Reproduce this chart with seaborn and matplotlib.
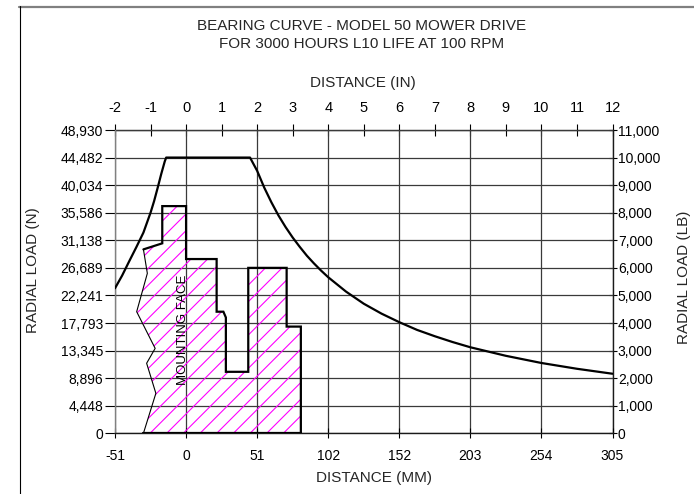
import matplotlib
matplotlib.use("Agg")
import matplotlib.pyplot as plt
from matplotlib.lines import Line2D
import numpy as np
import pandas as pd
import seaborn as sns

# ---------------- data ----------------
title_lines = ["BEARING CURVE - MODEL 50 MOWER DRIVE",
               "FOR 3000 HOURS L10 LIFE AT 100 RPM"]

# bearing capacity curve: distance (in) vs radial load (lb)
curve_in = [-2.0, -1.8, -1.6, -1.4, -1.2, -1.0, -0.9, -0.8, -0.7, -0.6, -0.56,
            1.80, 2.0, 2.2, 2.4, 2.6, 2.8, 3.0, 3.2, 3.4, 3.6, 3.8, 4.0,
            4.5, 5.0, 5.5, 6.0, 6.5, 7.0, 7.5, 8.0, 9.0, 10.0, 11.0, 12.0]
curve_lb = [5260, 5720, 6240, 6750, 7280, 8000, 8420, 8900, 9400, 9860, 10000,
            10000, 9520, 8910, 8380, 7900, 7480, 7100, 6760, 6440, 6160, 5900, 5660,
            5140, 4700, 4340, 4030, 3750, 3520, 3310, 3120, 2810, 2550, 2340, 2160]

# housing profile (hatched region): distance (in), load-axis height (lb)
house_in = [-1.20, 3.23, 3.23, 2.83, 2.83, 1.75, 1.75, 1.12, 1.12, 1.05, 0.86,
            0.86, 0.0, 0.0, -0.67, -0.67, -1.20]
house_lb = [0, 0, 3870, 3870, 6000, 6000, 2230, 2230, 4200, 4410, 4410,
            6320, 6320, 8240, 8240, 6890, 6670]
zig_in = [-1.20, -1.09, -1.39, -0.87, -1.11, -0.85, -1.20]
zig_lb = [6670, 5800, 4410, 3080, 2540, 1450, 0]

top_ticks_in = list(range(-2, 13))
bottom_ticks_in = list(range(-2, 13, 2))
bottom_labels_mm = ["-51", "0", "51", "102", "152", "203", "254", "305"]
y_ticks_lb = list(range(0, 11001, 1000))
left_labels_n = ["0", "4,448", "8,896", "13,345", "17,793", "22,241", "26,689",
                 "31,138", "35,586", "40,034", "44,482", "48,930"]
right_labels_lb = ["0", "1,000", "2,000", "3,000", "4,000", "5,000", "6,000",
                   "7,000", "8,000", "9,000", "10,000", "11,000"]

# ---------------- style ----------------
sns.set_style("white")
plt.rcParams["font.family"] = ["Liberation Sans", "DejaVu Sans"]
plt.rcParams["hatch.linewidth"] = 0.8

W, H = 694, 494
fig = plt.figure(figsize=(W / 100, H / 100), dpi=100)
fig.patch.set_facecolor("white")

def fx(px):
    return px / W

def fy(py):
    return 1 - py / H

ax_l, ax_r, ax_t, ax_b = 115, 612.5, 130, 433.3
ax = fig.add_axes([fx(ax_l), fy(ax_b), (ax_r - ax_l) / W, (ax_b - ax_t) / H])
ax.set_facecolor("white")

# grid
ax.set_xlim(-2, 12)
ax.set_ylim(0, 11000)
ax.set_xticks(bottom_ticks_in)
ax.set_xticklabels(bottom_labels_mm)
ax.set_yticks(y_ticks_lb)
ax.set_yticklabels(left_labels_n)
ax.grid(True, color="#3a3a3a", lw=0.9, zorder=0)
ax.set_axisbelow(True)

# hatched housing
hx = house_in + zig_in[1:]
hy = house_lb + zig_lb[1:]
ax.fill(hx, hy, facecolor="none", edgecolor="#ff00ff", hatch="//", lw=0, zorder=2)
ax.plot(house_in, house_lb, color="black", lw=1.6, zorder=3, solid_joinstyle="miter")
ax.plot([house_in[0], house_in[1]], [house_lb[0], house_lb[1]], color="black", lw=1.6, zorder=3)
ax.plot(zig_in, zig_lb, color="black", lw=0.8, zorder=3)

# bearing curve
df_curve = pd.DataFrame({"in": curve_in, "lb": curve_lb})
sns.lineplot(data=df_curve, x="in", y="lb", sort=False, estimator=None,
             color="black", lw=1.6, ax=ax, zorder=4)
ax.set_xlabel("")
ax.set_ylabel("")

ax.text(-0.1, 3750, "MOUNTING FACE", rotation=90, ha="center", va="center",
        fontsize=9.5, color="black", zorder=5)

# ticks / spines
ax.tick_params(axis="x", direction="inout", length=7.2, width=0.8, pad=7.5,
               labelsize=10, colors="black")
ax.tick_params(axis="y", direction="out", length=7, width=0.8, pad=1.7,
               labelsize=10, colors="black")
ax.tick_params(axis="y", left=True)
ax.tick_params(axis="x", bottom=True)
for s in ["top", "right"]:
    ax.spines[s].set_visible(False)
ax.spines["left"].set_color("#808080")
ax.spines["left"].set_linewidth(1.0)
ax.spines["bottom"].set_color("#1a1a1a")
ax.spines["bottom"].set_linewidth(1.0)

sec_top = ax.secondary_xaxis("top")
sec_top.set_xticks(top_ticks_in)
sec_top.set_xticklabels([str(t) for t in top_ticks_in])
sec_top.tick_params(direction="inout", length=8.6, width=0.8, pad=6.5,
                    labelsize=10.5, colors="black")
sec_top.spines["top"].set_color("#1a1a1a")
sec_top.spines["top"].set_linewidth(1.0)

sec_right = ax.secondary_yaxis("right")
sec_right.set_yticks(y_ticks_lb)
sec_right.set_yticklabels(right_labels_lb)
sec_right.tick_params(direction="inout", length=6, width=0.8, pad=0.8,
                      labelsize=10, colors="black")
sec_right.spines["right"].set_color("#1a1a1a")
sec_right.spines["right"].set_linewidth(1.0)

# texts
fig.text(fx(362), fy(26), title_lines[0], ha="center", va="center", fontsize=11)
fig.text(fx(362), fy(44), title_lines[1], ha="center", va="center", fontsize=11)
fig.text(fx(362.5), fy(82.5), "DISTANCE (IN)", ha="center", va="center", fontsize=11)
fig.text(fx(374.5), fy(478), "DISTANCE (MM)", ha="center", va="center", fontsize=11)
fig.text(fx(33), fy(270), "RADIAL LOAD (N)", rotation=90, ha="center", va="center", fontsize=11)
fig.text(fx(684), fy(277), "RADIAL LOAD (LB)", rotation=90, ha="center", va="center", fontsize=11)

# partial frame
fig.add_artist(Line2D([fx(19), fx(694)], [fy(6.7), fy(6.7)], color="#808080", lw=1.6,
                      transform=fig.transFigure))
fig.add_artist(Line2D([fx(19.5), fx(19.5)], [fy(6), fy(494)], color="black", lw=0.8,
                      transform=fig.transFigure))

fig.savefig("out.png", dpi=100, facecolor="white")
